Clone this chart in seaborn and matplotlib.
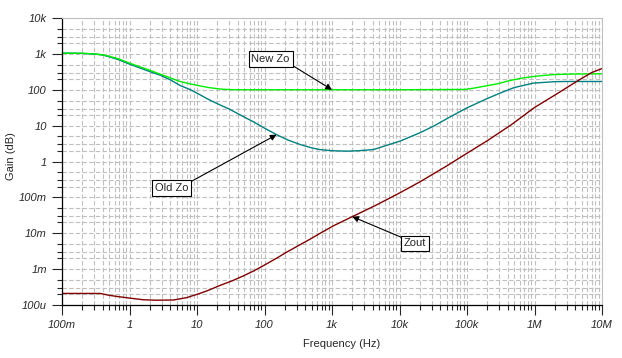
import matplotlib
matplotlib.use('Agg')
import pandas as pd
import matplotlib.pyplot as plt
import seaborn as sns
from matplotlib.ticker import LogLocator, NullFormatter

# values (frequency in Hz, impedance)
new_zo_f = [0.1, 0.2, 0.3, 0.4, 0.5, 0.7, 1, 1.4, 2, 2.83, 4, 5.6, 8, 11, 15, 21.8, 30, 50,
            1e3, 1e4, 9.3e4, 1.3e5, 1.74e5, 2.5e5, 3.11e5, 4e5, 5.5e5, 7e5, 9.6e5,
            1.4e6, 1.9e6, 3e6, 5e6, 1e7]
new_zo_v = [1050, 1040, 1000, 940, 860, 720, 553, 440, 350, 273, 215, 170, 145, 128, 115,
            105, 101, 100, 100, 100, 102, 112, 124, 140, 153, 175, 198, 215, 234,
            252, 264, 272, 276, 278]

old_zo_f = [0.1, 0.2, 0.3, 0.4, 0.5, 0.7, 1, 1.4, 2, 2.83, 4, 5.6, 8, 11, 15, 21.8, 30,
            43.4, 70, 100, 151, 220, 339, 500, 660, 1000, 1660, 2500, 4100, 6000, 10200,
            20000, 31700, 50000, 98800, 2e5, 3.11e5, 5e5, 9.6e5, 2e6, 3e6, 1e7]
old_zo_v = [1050, 1030, 990, 930, 830, 680, 518, 410, 320, 256, 190, 132, 100, 73, 53,
            38, 29, 20, 12.5, 8.5, 5.6, 4.0, 2.97, 2.4, 2.15, 2.0, 1.94, 2.0, 2.15, 2.7,
            3.7, 6.3, 9.6, 15.5, 31, 57, 81, 115, 153, 168, 170, 170]

zout_f = [0.1, 0.37, 0.5, 0.7, 1, 1.6, 2.5, 4.5, 7, 11, 15, 21.8, 33, 48, 70, 100, 150,
          215, 330, 470, 700, 1040, 2000, 4600, 10200, 20000, 50000, 1e5, 2e5, 4.5e5,
          1e6, 2.1e6, 4.2e6, 7e6, 1e7]
zout_v = [2.1e-4, 2.1e-4, 1.86e-4, 1.7e-4, 1.56e-4, 1.4e-4, 1.36e-4, 1.38e-4, 1.6e-4,
          2.1e-4, 2.6e-4, 3.5e-4, 4.7e-4, 6.4e-4, 9e-4, 1.3e-3, 2.0e-3, 3.0e-3, 4.7e-3,
          6.8e-3, 1.05e-2, 0.016, 0.029, 0.062, 0.135, 0.27, 0.75, 1.7, 3.8, 10.5,
          32, 75, 170, 300, 390]

x_ticks = [0.1, 1, 10, 100, 1e3, 1e4, 1e5, 1e6, 1e7]
x_labels = ['100m', '1', '10', '100', '1k', '10k', '100k', '1M', '10M']
y_ticks = [1e-4, 1e-3, 1e-2, 0.1, 1, 10, 100, 1e3, 1e4]
y_labels = ['100u', '1m', '10m', '100m', '1', '10', '100', '1k', '10k']

sns.set_style('ticks')
plt.rcParams['font.family'] = ['Liberation Sans', 'DejaVu Sans']

fig = plt.figure(figsize=(6.22, 3.58), dpi=100)
ax = fig.add_axes([62 / 622, 1 - 305 / 358, 540 / 622, 287 / 358])

sns.lineplot(x=old_zo_f, y=old_zo_v, ax=ax, color='#008080', lw=1, sort=False, estimator=None)
sns.lineplot(x=new_zo_f, y=new_zo_v, ax=ax, color='#00ee00', lw=1, sort=False, estimator=None)
sns.lineplot(x=zout_f, y=zout_v, ax=ax, color='#800000', lw=1, sort=False, estimator=None)

ax.set_xscale('log')
ax.set_yscale('log')
ax.set_xlim(0.1, 1e7)
ax.set_ylim(1e-4, 1e4)

ax.set_xticks(x_ticks)
ax.set_xticklabels(x_labels, fontstyle='italic', fontsize=8)
ax.set_yticks(y_ticks)
ax.set_yticklabels(y_labels, fontstyle='italic', fontsize=8)
ax.xaxis.set_minor_locator(LogLocator(base=10, subs=range(2, 10), numticks=50))
ax.yaxis.set_minor_locator(LogLocator(base=10, subs=[2, 3, 5], numticks=50))
ax.xaxis.set_minor_formatter(NullFormatter())
ax.yaxis.set_minor_formatter(NullFormatter())
ax.tick_params(which='major', direction='out', length=7, width=0.8, pad=4)
ax.tick_params(which='minor', direction='out', length=3.5, width=0.8)
ax.tick_params(top=False, right=False, which='both')

ax.grid(which='both', color='#c0c0c0', linestyle=(0, (4, 2)), lw=0.8)
for s in ['top', 'right']:
    ax.spines[s].set_color('#c0c0c0')
for s in ['left', 'bottom']:
    ax.spines[s].set_color('black')
    ax.spines[s].set_linewidth(0.9)

ax.set_xlabel('Frequency (Hz)', fontsize=8, x=0.517, labelpad=6)
ax.set_ylabel('Gain (dB)', fontsize=8)
ax.yaxis.set_label_coords(-0.085, 0.52)

box = dict(boxstyle='square,pad=0.25', fc='white', ec='black', lw=0.8)
arrow = dict(arrowstyle='-|>', color='black', lw=0.8, shrinkA=0, shrinkB=0, mutation_scale=9)
ax.annotate('New Zo', xy=(1000, 100), xytext=(123, 728), ha='center', va='center',
            fontsize=8, bbox=box, arrowprops=dict(arrow, relpos=(1, 0)))
ax.annotate('Old Zo', xy=(151, 5.6), xytext=(4.16, 0.18), ha='center', va='center',
            fontsize=8, bbox=box, arrowprops=dict(arrow, relpos=(1, 1)))
ax.annotate('Zout', xy=(2000, 0.029), xytext=(17100, 5.2e-3), ha='center', va='center',
            fontsize=8, bbox=box, arrowprops=dict(arrow, relpos=(0, 1)))

fig.savefig('out.png', dpi=100)
